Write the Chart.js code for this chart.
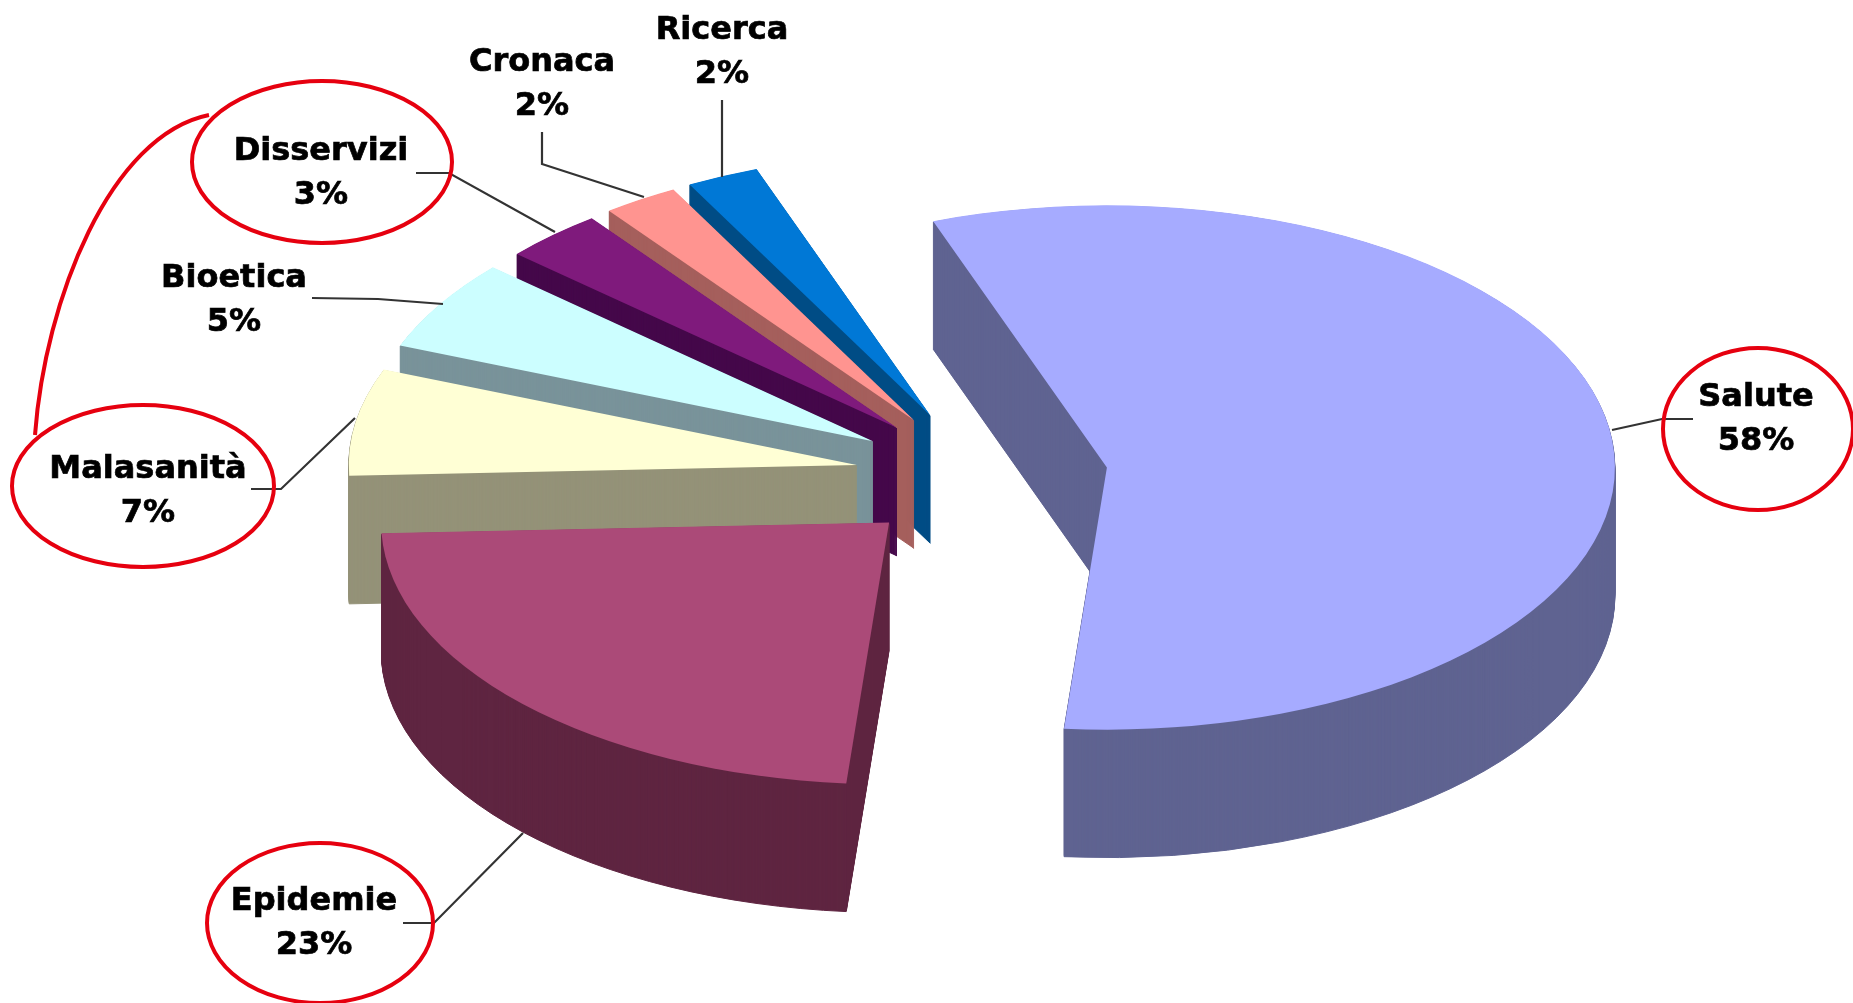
<!DOCTYPE html>
<html>
<head>
<meta charset="utf-8">
<title>Pie</title>
<script src="https://cdn.jsdelivr.net/npm/chart.js@4/dist/chart.umd.min.js"></script>
<style>
  html, body { margin: 0; padding: 0; background: #fff; }
  canvas { display: block; }
</style>
</head>
<body>
<canvas id="pie" width="1853" height="1003"></canvas>
<script>
const categories = ["Salute", "Epidemie", "Malasanità", "Bioetica", "Disservizi", "Cronaca", "Ricerca"];
// printed on the chart
const percentLabels = ["58%", "23%", "7%", "5%", "3%", "2%", "2%"];
const sliceShares = [56.9, 23, 6.6, 5.6, 3.2, 2.4, 2.3];

// slice look
const topColors = ["#a6abff", "#ab4a78", "#ffffd5", "#ccfeff", "#7f1a7c", "#ff9490", "#0078d6"];
const wallColors = ["#5f6391", "#5f2541", "#949278", "#79939a", "#45084a", "#a55f5c", "#004c85"];
const explode = [125, 130, 128, 129, 127, 128, 129];
const squash = 0.516;
const depth = 128;

// label layout, same order as categories
const labelX = [1756, 314, 148, 234, 321, 542, 722];
const labelY = [398, 902, 470, 279, 152, 63, 31];
const lineGap = 43.5;

const leaders = [
  [[1693, 419], [1662, 419], [1612, 430]],
  [[403, 923], [434, 923], [523, 833]],
  [[251, 489], [281, 489], [355, 418]],
  [[312, 298], [378, 299], [443, 304]],
  [[416, 173], [449, 173], [555, 232]],
  [[542, 132], [542, 164], [644, 197]],
  [[722, 100], [722, 177]]
];

// red marks: x, y, rx, ry
const circles = [
  [1758, 429, 95, 81],
  [320, 923, 113, 80],
  [143, 486, 131, 81],
  [322, 162, 130, 81]
];

function wedge(ctx, arc, offset, dy, edge) {
  const mid = (arc.startAngle + arc.endAngle) / 2;
  ctx.save();
  ctx.translate(arc.x, arc.y + dy);
  ctx.scale(1, squash);
  ctx.translate(Math.cos(mid) * offset, Math.sin(mid) * offset);
  ctx.beginPath();
  ctx.moveTo(0, 0);
  ctx.arc(0, 0, arc.outerRadius, arc.startAngle, arc.endAngle);
  ctx.closePath();
  ctx.restore();
  ctx.fill();
  if (edge) ctx.stroke();
}

const pie3d = {
  id: "pie3d",
  beforeDatasetDraw(chart, args) {
    const ctx = chart.ctx;
    const arcs = args.meta.data;
    // back slices first, the big one last
    for (let i = arcs.length - 1; i >= 0; i--) {
      ctx.fillStyle = wallColors[i];
      ctx.strokeStyle = wallColors[i];
      ctx.lineWidth = 1;
      for (let d = depth; d > 0; d--) wedge(ctx, arcs[i], explode[i], d, true);
      ctx.fillStyle = topColors[i];
      wedge(ctx, arcs[i], explode[i], 0, false);
    }
    return false;
  },
  afterDatasetsDraw(chart) {
    const ctx = chart.ctx;
    ctx.save();

    ctx.strokeStyle = "#333";
    ctx.lineWidth = 2.2;
    leaders.forEach((pts) => {
      ctx.beginPath();
      pts.forEach((p, i) => (i ? ctx.lineTo(p[0], p[1]) : ctx.moveTo(p[0], p[1])));
      ctx.stroke();
    });

    ctx.strokeStyle = "#e6000f";
    ctx.lineWidth = 4;
    circles.forEach((c) => {
      ctx.beginPath();
      ctx.ellipse(c[0], c[1], c[2], c[3], 0, 0, Math.PI * 2);
      ctx.stroke();
    });
    ctx.beginPath();
    ctx.moveTo(209, 115);
    ctx.bezierCurveTo(110, 135, 45, 300, 35, 435);
    ctx.stroke();

    ctx.fillStyle = "#000";
    ctx.strokeStyle = "#000";
    ctx.lineWidth = 0.7;
    ctx.font = "bold 32px 'DejaVu Sans'";
    ctx.textAlign = "center";
    ctx.textBaseline = "middle";
    categories.forEach((name, i) => {
      ctx.fillText(name, labelX[i], labelY[i]);
      ctx.strokeText(name, labelX[i], labelY[i]);
      ctx.fillText(percentLabels[i], labelX[i], labelY[i] + lineGap);
      ctx.strokeText(percentLabels[i], labelX[i], labelY[i] + lineGap);
    });
    ctx.restore();
  }
};

window.addEventListener("DOMContentLoaded", () => {
  new Chart(document.getElementById("pie"), {
    type: "pie",
    data: {
      labels: categories,
      datasets: [{ data: sliceShares, backgroundColor: topColors, borderWidth: 0 }]
    },
    options: {
      responsive: false,
      animation: false,
      rotation: -20,
      radius: 508,
      layout: { padding: { left: 113, bottom: 51 } },
      plugins: { legend: { display: false }, tooltip: { enabled: false } }
    },
    plugins: [pie3d]
  });
});
</script>
</body>
</html>
